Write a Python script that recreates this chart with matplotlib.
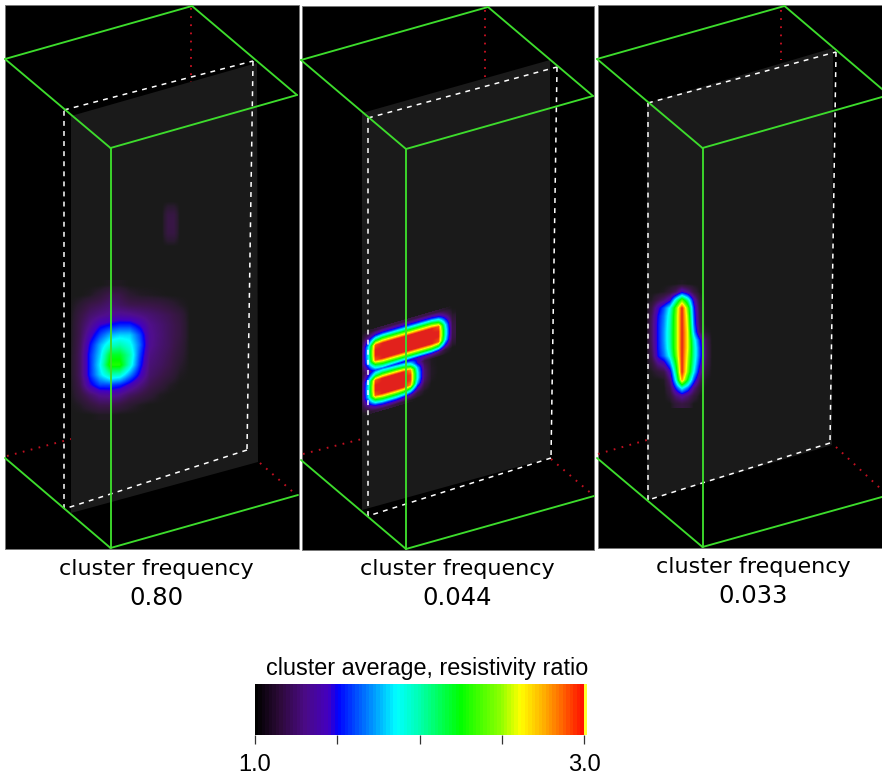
#resistivity ratio cluster averages, three 3d panels

import numpy as np
import matplotlib
matplotlib.use('Agg')
import matplotlib.pyplot as plt
from matplotlib.cm import ScalarMappable
from matplotlib.colors import LinearSegmentedColormap, Normalize
from matplotlib.patches import Polygon, Rectangle
from matplotlib.transforms import Affine2D

cluster_label = 'cluster frequency'
frequencies = ['0.80', '0.044', '0.033']
label_x = [156, 457, 753]
label_y = [569, 569, 567]
colorbar_title = 'cluster average, resistivity ratio'
bar_ticks = [1.0, 1.5, 2.0, 2.5, 3.0]
bar_ticklabels = ['1.0', '', '', '', '3.0']

# colour scale, value -> colour
scale_values = [1.0, 1.14, 1.3, 1.44, 1.5, 1.66, 1.86, 2.0, 2.25, 2.5, 2.62, 2.76, 2.86, 3.0, 3.001, 3.018]
scale_colors = ['#000000', '#2c0a38', '#4a0a86', '#4400c0', '#0000ff', '#0070ff', '#00ffff', '#00ffb0',
                '#00ff00', '#90ff00', '#ffff00', '#ffb000', '#ff7000', '#ff1000', '#ffff30', '#ffff30']
blob_values = [1.0, 1.05, 1.14, 1.3, 1.44, 1.5, 1.66, 1.86, 2.0, 2.25, 2.5, 2.62, 2.76, 2.86, 3.0]
blob_colors = ['#1a1a1a', '#2a1a30', '#3a1648', '#500f8c', '#4400c0', '#0000ff', '#0070ff', '#00ffff', '#00ffb0',
               '#00ff00', '#90ff00', '#ffff00', '#ffb000', '#ff7000', '#e2211c']

# panel rectangles: x0, y0, x1, y1 in image pixels
panel_boxes = [(5, 5, 299, 549), (301.5, 6, 594, 550), (598, 5, 882, 548)]

# wire frame: back, left, right, front on top; left, right, front at the bottom
top_back = [(192, 6), (488, 7), (784.5, 6)]
top_left = [(5, 59), (301, 60), (597, 59)]
top_right = [(297, 95), (593, 96), (889, 95)]
top_front = [(110.5, 148), (406, 149), (702.5, 148)]
bottom_left = [(5, 458), (301, 460), (597, 458)]
bottom_right = [(298, 495), (594, 496), (889, 495)]
bottom_front = [(110.5, 548), (406, 549), (702.5, 547)]

# slice planes and their dashed outlines: TL, TR, BR, BL
planes = [[(71, 116), (257, 63), (258, 462), (71, 513)],
          [(362, 113), (550, 60), (550, 458), (362, 510)],
          [(647, 103), (833, 48), (832, 445), (647, 500)]]
dashed = [[(64, 110), (253, 61), (247, 450), (64, 509)],
          [(368, 118), (557, 67), (551, 458), (368, 516)],
          [(648, 103), (836, 52), (830, 443), (648, 500)]]

# hidden edges, red dots
dots_top = [[(191, 8), (191, 82)], [(485, 10), (485, 77)], [(781, 10), (781, 60)]]
dots_left = [[(7, 456), (71, 439)], [(303, 454), (362, 439)], [(598, 454), (647, 440)]]
dots_right = [[(260, 463), (293, 492)], [(551, 459), (593, 495)], [(836, 447), (882, 490)]]

# panel 1 main blob, columns every 10 px from x=70, rows every 10 px from y=285
blob1_x = (70, 190)
blob1_y = (285, 415)
blob1 = [
    [1, 1, 1, 1, 1.02, 1.02, 1, 1, 1, 1, 1, 1, 1],
    [1, 1, 1.02, 1.08, 1.16, 1.14, 1.06, 1.03, 1.02, 1.01, 1, 1, 1],
    [1, 1.06, 1.14, 1.18, 1.24, 1.2, 1.16, 1.15, 1.14, 1.12, 1.08, 1.03, 1],
    [1, 1.12, 1.22, 1.28, 1.32, 1.34, 1.32, 1.28, 1.24, 1.2, 1.16, 1.1, 1],
    [1, 1.15, 1.3, 1.45, 1.5, 1.55, 1.55, 1.45, 1.3, 1.24, 1.18, 1.12, 1],
    [1, 1.16, 1.4, 1.6, 1.75, 1.8, 1.8, 1.6, 1.32, 1.25, 1.18, 1.12, 1],
    [1, 1.18, 1.5, 1.75, 1.95, 2.0, 1.9, 1.65, 1.32, 1.24, 1.18, 1.1, 1],
    [1, 1.2, 1.55, 1.8, 2.2, 2.2, 2.0, 1.6, 1.28, 1.22, 1.16, 1.08, 1],
    [1, 1.2, 1.55, 1.85, 2.3, 2.3, 1.95, 1.55, 1.25, 1.2, 1.14, 1.05, 1],
    [1, 1.2, 1.55, 1.8, 2.0, 1.95, 1.7, 1.45, 1.22, 1.16, 1.1, 1.02, 1],
    [1, 1.16, 1.45, 1.6, 1.6, 1.55, 1.42, 1.28, 1.16, 1.1, 1.03, 1, 1],
    [1, 1.1, 1.22, 1.32, 1.34, 1.3, 1.2, 1.14, 1.08, 1.02, 1, 1, 1],
    [1, 1.03, 1.1, 1.16, 1.16, 1.12, 1.06, 1.02, 1, 1, 1, 1, 1],
    [1, 1, 1, 1.02, 1.02, 1, 1, 1, 1, 1, 1, 1, 1],
]

# small faint patch high up in panel 1
spot_x = (162, 180)
spot_y = (202, 247)
spot = [
    [1, 1, 1, 1],
    [1, 1.06, 1.06, 1],
    [1, 1.12, 1.12, 1],
    [1, 1.13, 1.13, 1],
    [1, 1.13, 1.13, 1],
    [1, 1.12, 1.12, 1],
    [1, 1.06, 1.06, 1],
    [1, 1, 1, 1],
]

# panel 2 bars, sheared grid: columns every 7 px from x=361, rows every 5 px from y=330 at x=375
bars_x = (361, 452)
bars_y = (330, 410)
bars_shear = -0.29
bars_pivot = 375
bars = [
    [1, 1.04, 1.1, 1.14, 1.14, 1.14, 1.14, 1.14, 1.14, 1.14, 1.14, 1.1, 1.04, 1],
    [1.04, 1.25, 1.5, 1.58, 1.58, 1.58, 1.58, 1.58, 1.58, 1.58, 1.58, 1.5, 1.25, 1.02],
    [1.08, 1.55, 2.15, 2.3, 2.3, 2.3, 2.3, 2.3, 2.3, 2.3, 2.3, 2.15, 1.55, 1.08],
    [1.12, 1.85, 2.9, 3, 3, 3, 3, 3, 3, 3, 3, 2.9, 1.85, 1.12],
    [1.12, 1.9, 3, 3, 3, 3, 3, 3, 3, 3, 3, 3, 1.95, 1.14],
    [1.12, 1.9, 3, 3, 3, 3, 3, 3, 3, 3, 3, 3, 1.95, 1.14],
    [1.12, 1.85, 2.9, 3, 3, 3, 3, 3, 3, 3, 3, 2.9, 1.85, 1.12],
    [1.08, 1.55, 2.15, 2.3, 2.3, 2.3, 2.3, 2.3, 2.3, 2.3, 2.3, 2.15, 1.5, 1.06],
    [1.06, 1.32, 1.6, 1.65, 1.6, 1.55, 1.5, 1.45, 1.42, 1.42, 1.42, 1.3, 1.08, 1],
    [1.08, 1.55, 2.1, 2.25, 2.25, 2.25, 2.2, 2.0, 1.45, 1.12, 1.02, 1, 1, 1],
    [1.12, 1.85, 2.9, 3, 3, 3, 3, 2.8, 1.8, 1.2, 1.02, 1, 1, 1],
    [1.12, 1.9, 3, 3, 3, 3, 3, 2.95, 1.9, 1.25, 1.03, 1, 1, 1],
    [1.12, 1.9, 3, 3, 3, 3, 3, 2.95, 1.9, 1.25, 1.03, 1, 1, 1],
    [1.12, 1.85, 2.9, 3, 3, 3, 3, 2.8, 1.75, 1.2, 1.02, 1, 1, 1],
    [1.08, 1.55, 2.15, 2.3, 2.3, 2.3, 2.25, 2.0, 1.4, 1.1, 1, 1, 1, 1],
    [1.04, 1.25, 1.5, 1.58, 1.58, 1.58, 1.5, 1.35, 1.12, 1.02, 1, 1, 1, 1],
    [1, 1.04, 1.1, 1.14, 1.14, 1.1, 1.06, 1.02, 1, 1, 1, 1, 1, 1],
]

# panel 3 stripe, columns every 6 px from x=646, rows every 8 px from y=284
stripe_x = (646, 712)
stripe_y = (284, 404)
stripe = [
    [1, 1, 1, 1, 1, 1, 1.02, 1, 1, 1, 1, 1],
    [1, 1, 1, 1.02, 1.08, 1.2, 1.45, 1.3, 1.1, 1, 1, 1],
    [1, 1.03, 1.14, 1.25, 1.42, 1.95, 2.4, 2.0, 1.4, 1.06, 1, 1],
    [1, 1.14, 1.42, 1.62, 1.88, 2.4, 3.0, 2.4, 1.55, 1.1, 1, 1],
    [1, 1.2, 1.5, 1.68, 1.95, 2.45, 3.0, 2.5, 1.6, 1.12, 1, 1],
    [1, 1.22, 1.52, 1.7, 1.98, 2.45, 3.0, 2.55, 1.65, 1.14, 1, 1],
    [1, 1.22, 1.52, 1.72, 2.0, 2.45, 3.0, 2.6, 1.75, 1.2, 1.04, 1],
    [1, 1.22, 1.52, 1.72, 2.0, 2.45, 3.0, 2.6, 1.95, 1.52, 1.18, 1],
    [1, 1.2, 1.52, 1.7, 1.98, 2.45, 3.0, 2.6, 2.0, 1.58, 1.2, 1],
    [1, 1.16, 1.5, 1.66, 1.9, 2.4, 3.0, 2.55, 2.0, 1.58, 1.2, 1],
    [1, 1.08, 1.28, 1.38, 1.68, 2.25, 3.0, 2.5, 1.95, 1.5, 1.16, 1],
    [1, 1.02, 1.08, 1.14, 1.4, 2.1, 3.0, 2.45, 1.85, 1.38, 1.08, 1],
    [1, 1, 1, 1.02, 1.25, 1.9, 2.8, 2.2, 1.6, 1.2, 1.02, 1],
    [1, 1, 1, 1, 1.14, 1.55, 1.9, 1.65, 1.28, 1.06, 1, 1],
    [1, 1, 1, 1, 1.06, 1.25, 1.35, 1.25, 1.1, 1, 1, 1],
    [1, 1, 1, 1, 1, 1.08, 1.12, 1.08, 1, 1, 1, 1],
]


def make_cmap(values, colors, top):
    pos = [(v - 1.0) / (top - 1.0) for v in values]
    return LinearSegmentedColormap.from_list('scale', list(zip(pos, colors)), N=512)


def line(ax, a, b, **kw):
    ax.plot([a[0], b[0]], [a[1], b[1]], **kw)


blob_cmap = make_cmap(blob_values, blob_colors, 3.0)
bar_cmap = LinearSegmentedColormap.from_list(
    'bar', list(zip([(v - 1.0) / 2.018 for v in scale_values], scale_colors)), N=96)

fig = plt.figure(figsize=(8.82, 7.77), dpi=100, facecolor='white')
ax = fig.add_axes([0, 0, 1, 1])
ax.axis('off')


def draw_blob(grid, xr, yr, plane, shear=0.0, pivot=0.0):
    g = np.array(grid, dtype=float)
    dx = (xr[1] - xr[0]) / (g.shape[1] - 1)
    dy = (yr[1] - yr[0]) / (g.shape[0] - 1)
    tr = Affine2D(np.array([[1, 0, 0], [shear, 1, -shear * pivot], [0, 0, 1.0]])) + ax.transData
    im = ax.imshow(g, extent=(xr[0] - dx / 2, xr[1] + dx / 2, yr[1] + dy / 2, yr[0] - dy / 2),
                   cmap=blob_cmap, vmin=1, vmax=3, interpolation='bilinear',
                   interpolation_stage='data', aspect='auto', transform=tr, zorder=3)
    im.set_clip_path(plane)


green = dict(color='#3ddc2c', lw=1.35, zorder=6, solid_capstyle='round')
white = dict(color='white', lw=1.1, ls=(0, (3.2, 3.4)), zorder=5)
red = dict(color='#c01020', lw=1.4, ls=(0, (0.9, 3.3)), zorder=2)

for i in range(3):
    x0, y0, x1, y1 = panel_boxes[i]
    box = Rectangle((x0, y0), x1 - x0, y1 - y0, fc='black', ec='#777777', lw=0.7, zorder=1)
    ax.add_patch(box)

    plane = Polygon(planes[i], closed=True, fc='#1a1a1a', ec='none', zorder=2.5)
    ax.add_patch(plane)

    if i == 0:
        draw_blob(blob1, blob1_x, blob1_y, plane)
        draw_blob(spot, spot_x, spot_y, plane)
    elif i == 1:
        draw_blob(bars, bars_x, bars_y, plane, bars_shear, bars_pivot)
    else:
        draw_blob(stripe, stripe_x, stripe_y, plane)

    for seg in (dots_top[i], dots_left[i], dots_right[i]):
        line(ax, seg[0], seg[1], **red)

    d = dashed[i]
    for a, b in zip(d, d[1:] + d[:1]):
        line(ax, a, b, **white)

    edges = [(top_back[i], top_left[i]), (top_back[i], top_right[i]),
             (top_front[i], top_left[i]), (top_front[i], top_right[i]),
             (top_front[i], bottom_front[i]), (bottom_front[i], bottom_left[i]),
             (bottom_front[i], bottom_right[i])]
    for a, b in edges:
        ax.plot([a[0], b[0]], [a[1], b[1]], clip_path=box, **green)

    ax.text(label_x[i], label_y[i], cluster_label, ha='center', va='center',
            fontsize=16, family='DejaVu Sans', color='black')
    ax.text(label_x[i], label_y[i] + 29, frequencies[i], ha='center', va='center',
            fontsize=17.5, family='DejaVu Sans', color='black')

ax.set_xlim(0, 882)
ax.set_ylim(777, 0)

ax.text(427, 668, colorbar_title, ha='center', va='center', fontsize=16.8,
        family='Liberation Sans', color='black')

# colorbar, pixel box 255..587 x 684..735
cax = fig.add_axes([255 / 882, 1 - 735 / 777, 332 / 882, 51 / 777])
sm = ScalarMappable(norm=Normalize(1.0, 3.018), cmap=bar_cmap)
cb = fig.colorbar(sm, cax=cax, orientation='horizontal', ticks=bar_ticks)
cb.ax.set_xticklabels(bar_ticklabels, fontsize=17, family='Liberation Sans')
cb.ax.tick_params(length=6.5, width=0.9, color='#333333', pad=7)
cb.outline.set_visible(False)

fig.savefig('out.png', dpi=100, facecolor='white')
